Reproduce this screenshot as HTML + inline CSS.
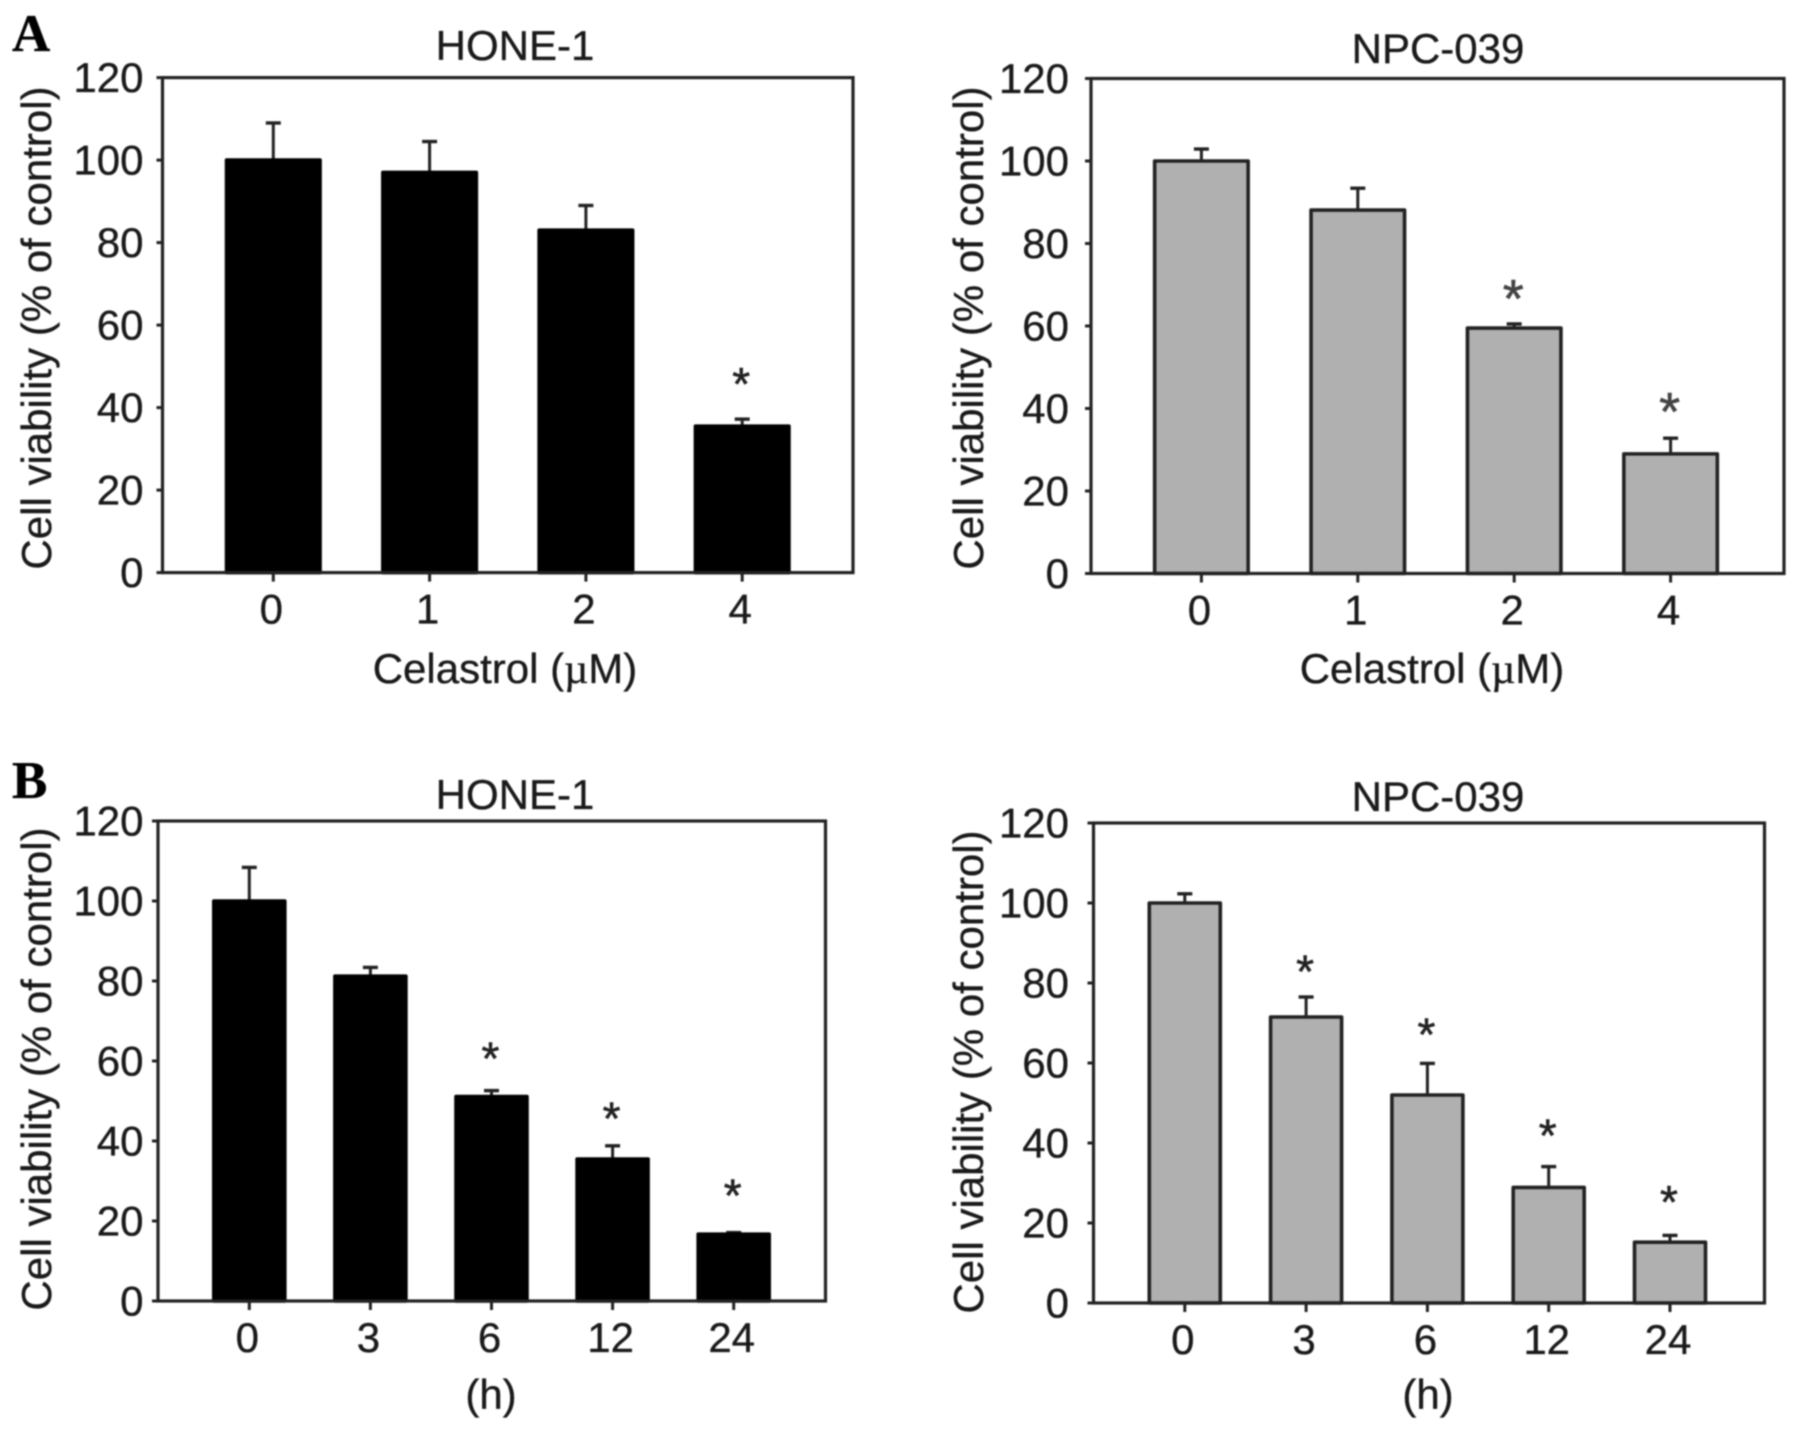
<!DOCTYPE html>
<html lang="en">
<head>
<meta charset="utf-8">
<title>Cell viability bar charts</title>
<style>
  html, body { margin: 0; padding: 0; background: #fff; }
  svg { display: block; filter: blur(0.9px); }
  text { font-family: "Liberation Sans", Arial, sans-serif; fill: #1a1a1a; stroke: #1a1a1a; stroke-width: 0.35px; }
  .tick { font-size: 42px; }
  .title { font-size: 42px; text-anchor: middle; }
  .axis-title { font-size: 42px; text-anchor: middle; }
  .letter { font-family: "Liberation Serif", serif; font-weight: bold; font-size: 53px; fill: #000; stroke: #000; }
</style>
</head>
<body>
<svg id="figure" xmlns="http://www.w3.org/2000/svg" width="1795" height="1430" viewBox="0 0 1795 1430">
  <rect x="0" y="0" width="1795" height="1430" fill="#fff"/>

  <text class="letter" x="12" y="51">A</text>
  <text class="letter" x="12" y="798">B</text>

  <text class="title" x="515" y="60">HONE-1</text>
  <text class="title" x="1438" y="63">NPC-039</text>
  <text class="title" x="515" y="809">HONE-1</text>
  <text class="title" x="1438" y="811">NPC-039</text>

  <text class="axis-title" transform="translate(51,328) rotate(-90)">Cell viability (% of control)</text>
  <text class="axis-title" transform="translate(983,328) rotate(-90)">Cell viability (% of control)</text>
  <text class="axis-title" transform="translate(51,1069) rotate(-90)">Cell viability (% of control)</text>
  <text class="axis-title" transform="translate(983,1072) rotate(-90)">Cell viability (% of control)</text>

  <text class="axis-title" x="505" y="683">Celastrol (<tspan font-family="Liberation Serif">µ</tspan>M)</text>
  <text class="axis-title" x="1432" y="683">Celastrol (<tspan font-family="Liberation Serif">µ</tspan>M)</text>
  <text class="axis-title" x="491" y="1409">(h)</text>
  <text class="axis-title" x="1428" y="1409">(h)</text>
</svg>
<script>
// Shared y-axis ticks
const yTickLabels = [0, 20, 40, 60, 80, 100, 120];

// Panel A, HONE-1
const aHoneCategories = ['0', '1', '2', '4'];
const aHoneValues = [100, 97, 83, 35.5];
const aHoneErrorTops = [109, 104.5, 89, 37.2];
const aHoneStars = [null, null, null, 47];

// Panel A, NPC-039
const aNpcCategories = ['0', '1', '2', '4'];
const aNpcValues = [100, 88.1, 59.5, 29];
const aNpcErrorTops = [102.9, 93.4, 60.5, 32.8];
const aNpcStars = [null, null, 68.2, 40.8];

// Panel B, HONE-1
const bHoneCategories = ['0', '3', '6', '12', '24'];
const bHoneValues = [100, 81.2, 51.1, 35.5, 16.7];
const bHoneErrorTops = [108.4, 83.4, 52.6, 38.8, 17.1];
const bHoneStars = [null, null, 62, 46.9, 27.7];

// Panel B, NPC-039
const bNpcCategories = ['0', '3', '6', '12', '24'];
const bNpcValues = [100, 71.5, 52, 28.9, 15.2];
const bNpcErrorTops = [102.3, 76.5, 59.9, 34.1, 16.9];
const bNpcStars = [null, 84.2, 68.5, 43.2, 26.6];

const SVG_NS = 'http://www.w3.org/2000/svg';
const figure = document.getElementById('figure');
const INK = '#222';

function make(parent, tag, attrs) {
  const el = document.createElementNS(SVG_NS, tag);
  for (const key in attrs) el.setAttribute(key, attrs[key]);
  parent.appendChild(el);
  return el;
}

function drawPanel(p) {
  const group = make(figure, 'g', {});
  
  

  const plotWidth = p.right - p.left;
  const yScale = v => p.bottom - (v / 120) * (p.bottom - p.top);
  const xScale = i => p.left + p.offset + i * p.step;

  // Bars, error bars and significance stars
  p.values.forEach((value, i) => {
    const cx = xScale(i);

    const errLine = make(group, 'line', { x1: cx, x2: cx, y1: yScale(value), y2: yScale(p.errorTops[i]), stroke: INK, 'stroke-width': 3 });
    
    

    const errCap = make(group, 'line', { x1: cx - 7.5, x2: cx + 7.5, y1: yScale(p.errorTops[i]), y2: yScale(p.errorTops[i]), stroke: INK, 'stroke-width': 3.4 });
    
    

    const bar = make(group, 'rect', { x: cx - p.barWidth / 2, y: yScale(value), width: p.barWidth, height: yScale(0) - yScale(value), fill: p.fill, stroke: p.barStroke, 'stroke-width': 3.6, 'stroke-linejoin': 'round' });
    
    

    if (p.stars[i] !== null) {
      const star = make(group, 'text', { x: cx - 1, y: yScale(p.stars[i]) + 0.4625 * p.starSize, 'text-anchor': 'middle', style: 'stroke-width:0.6px;font-size:' + p.starSize + 'px;fill:' + p.starColor + ';stroke:' + p.starColor });
      
      
      star.textContent = '*';
    }
  });

  // Plot frame
  const frame = make(group, 'rect', { x: p.left, y: p.top, width: plotWidth, height: p.bottom - p.top, fill: 'none', stroke: INK, 'stroke-width': 3.2 });
  
  

  // Y axis
  yTickLabels.forEach(t => {
    const y = yScale(t);
    const tick = make(group, 'line', { x1: p.left - 6, x2: p.left, y1: y, y2: y, stroke: INK, 'stroke-width': 3 });
    
    

    const label = make(group, 'text', { class: 'tick', x: p.left - p.yLabelGap, y: y + 14.5, 'text-anchor': 'end' });
    
    
    label.textContent = t;
  });

  // X axis
  p.categories.forEach((c, i) => {
    const x = xScale(i);
    const tick = make(group, 'line', { x1: x, x2: x, y1: p.bottom, y2: p.bottom + 9, stroke: INK, 'stroke-width': 3 });
    
    

    const label = make(group, 'text', { class: 'tick', x: x - 2, y: p.bottom + 51, 'text-anchor': 'middle' });
    
    
    label.textContent = c;
  });
}

drawPanel({ name: 'chart-a-hone-1', left: 162.5, right: 853, top: 77.6, bottom: 572.6, offset: 110.8, step: 156.3, barWidth: 93.5, yLabelGap: 19, starSize: 46,
  categories: aHoneCategories, values: aHoneValues, errorTops: aHoneErrorTops, stars: aHoneStars,
  fill: '#000', barStroke: '#000', starColor: '#222' });
drawPanel({ name: 'chart-a-npc-039', left: 1091, right: 1784, top: 78.5, bottom: 573.5, offset: 110.4, step: 156.4, barWidth: 93.5, yLabelGap: 22, starSize: 54,
  categories: aNpcCategories, values: aNpcValues, errorTops: aNpcErrorTops, stars: aNpcStars,
  fill: '#b0b0b0', barStroke: '#222', starColor: '#444' });
drawPanel({ name: 'chart-b-hone-1', left: 158, right: 825.5, top: 821, bottom: 1301, offset: 91.3, step: 121.1, barWidth: 71, yLabelGap: 14.5, starSize: 46,
  categories: bHoneCategories, values: bHoneValues, errorTops: bHoneErrorTops, stars: bHoneStars,
  fill: '#000', barStroke: '#000', starColor: '#222' });
drawPanel({ name: 'chart-b-npc-039', left: 1093.5, right: 1764.5, top: 823, bottom: 1303, offset: 91.3, step: 121.3, barWidth: 71, yLabelGap: 24.5, starSize: 46,
  categories: bNpcCategories, values: bNpcValues, errorTops: bNpcErrorTops, stars: bNpcStars,
  fill: '#b0b0b0', barStroke: '#222', starColor: '#222' });
</script>
</body>
</html>
